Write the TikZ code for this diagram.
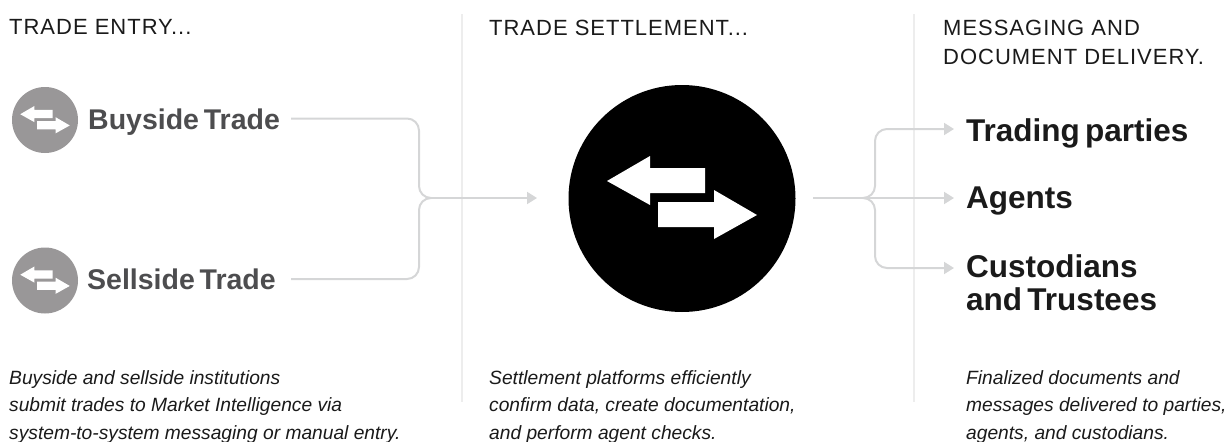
\documentclass[tikz,border=0pt]{standalone}
\usepackage{fontspec}
\setmainfont{Liberation Sans}
\newfontfamily\hdfont[LetterSpace=4.5]{Liberation Sans}
\newfontfamily\lblfont[WordSpace=0.6]{Liberation Sans Bold}
\definecolor{linegray}{HTML}{D5D6D7}
\definecolor{divgray}{HTML}{EDEDED}
\definecolor{circgray}{HTML}{999798}
\definecolor{lblgray}{HTML}{4D4D4F}
\definecolor{ink}{HTML}{1A1A1A}
\usetikzlibrary{arrows.meta}
\tikzset{
  x=1pt,y=-1pt,
  header/.style={anchor=north west,inner sep=0pt,font=\hdfont\fontsize{22}{29.5}\selectfont,text=ink,align=left},
  caption/.style={anchor=north west,inner sep=0pt,font=\itshape\fontsize{19.2}{27.5}\selectfont,text=ink,align=left},
  lblgrey/.style={anchor=base west,inner sep=0pt,font=\lblfont\fontsize{28.5}{30}\selectfont,text=lblgray},
  lblblack/.style={anchor=base west,inner sep=0pt,font=\lblfont\fontsize{31.5}{33}\selectfont,text=ink},
  lblblacktwo/.style={anchor=west,inner sep=0pt,font=\lblfont\fontsize{31.5}{33}\selectfont,text=ink,align=left},
  conn/.style={draw=linegray,line width=2pt,rounded corners=12pt},
  tipped/.style={conn,-{Triangle[length=10pt,width=12pt]}},
  divider/.style={draw=divgray,line width=2pt},
  swap/.pic={
    \fill[white] (-75,-17.5) -- (-32,-42.5) -- (-32,-30.5) -- (23,-30.5) -- (23,-5.5) -- (-32,-5.5) -- (-32,6.5) -- cycle;
    \fill[white] (75,16.5) -- (32,-8.5) -- (32,3.5) -- (-24,3.5) -- (-24,28.5) -- (32,28.5) -- (32,40.5) -- cycle;
  }
}
\begin{document}
\begin{tikzpicture}
\useasboundingbox (0,0) rectangle (1227,442);
\draw[divider] (462,14) -- (462,402);
\draw[divider] (914,14) -- (914,402);
\node[header] (h1) at (9,19.5) {TRADE ENTRY...};
\node[header] (h2) at (489,19.5) {TRADE SETTLEMENT...};
\node[header] (h3) at (943,19.5) {MESSAGING AND\\DOCUMENT DELIVERY.};
\node[circle,fill=circgray,minimum size=66pt,inner sep=0pt] (c1) at (45,120) {};
\pic[scale=.33] at (c1) {swap};
\node[circle,fill=circgray,minimum size=66pt,inner sep=0pt] (c2) at (45,280.5) {};
\pic[scale=.33] at (c2) {swap};
\node[lblgrey] (buy) at (88,129) {Buyside Trade};
\node[lblgrey] (sell) at (87,289) {Sellside Trade};
\coordinate (b1) at (291,118.5);
\coordinate (s1) at (291,279);
\coordinate (j1) at (431,198);
\coordinate (t1) at (537,198);
\node[circle,fill=black,minimum size=227pt,inner sep=0pt] (main) at (682,198.5) {};
\pic at (main) {swap};
\draw[conn] (b1) -| (419,198) -- (j1);
\draw[conn] (s1) -| (419,198) -- (j1);
\draw[tipped] (j1) -- (t1);
\coordinate (m1) at (813,198);
\coordinate (j2) at (863,198);
\node[lblblack] (tp) at (966,141.7) {Trading parties};
\node[lblblack] (ag) at (966,208.3) {Agents};
\node[lblblacktwo] (cu) at (966,283) {Custodians\\and Trustees};
\coordinate (t2a) at (954,129);
\coordinate (t2b) at (954,198);
\coordinate (t2c) at (954,268);
\draw[tipped] (m1) -- (t2b);
\draw[tipped] (j2) -- (875,198) |- (t2a);
\draw[tipped] (j2) -- (875,198) |- (t2c);
\node[caption] (n1) at (9,370) {Buyside and sellside institutions\\submit trades to Market Intelligence via\\system-to-system messaging or manual entry.};
\node[caption] (n2) at (489,370) {Settlement platforms efficiently\\confirm data, create documentation,\\and perform agent checks.};
\node[caption] (n3) at (966,370) {Finalized documents and\\messages delivered to parties,\\agents, and custodians.};
\end{tikzpicture}
\end{document}
